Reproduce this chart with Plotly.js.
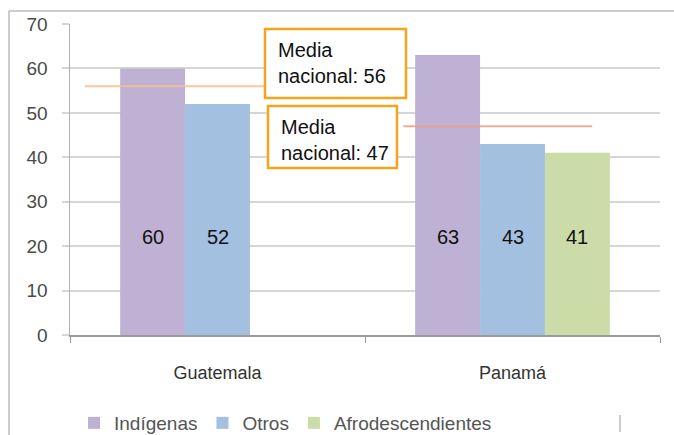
<!DOCTYPE html>
<html>
<head>
<meta charset="utf-8">
<script src="https://cdn.plot.ly/plotly-3.0.1.min.js"></script>
<style>
body{margin:0;background:#fff;}
#plot{width:674px;height:435px;}
</style>
</head>
<body>
<div id="plot"></div>
<script>
/*chart data*/
var paises=['Guatemala','Panamá'];
var series=['Indígenas','Otros','Afrodescendientes'];
var indigenas=[60,63];
var otros=[52,43];
var afro=[null,41];
var mediaNacional=[56,47];

var colores=['#bfb1d3','#a4c0e0','#cbdca8'];
var valores=[indigenas,otros,afro];

/*plot area in pixels, used to place the boxes and frame*/
var L=70, T=24, W=590, H=311;
function px(x){ return (x-L)/W; }
function py(y){ return (T+H-y)/H; }

var bargap=0.34;
var barW=(1-bargap)/series.length;

var data=[];
for(i=0;i<series.length;i++){
    data.push({
        type:'bar',
        name:series[i],
        x:paises,
        y:valores[i],
        marker:{color:colores[i]},
        hoverinfo:'none'
    });
}

/*labels inside the bars*/
var anns=[];
var labelY=22;
for(i=0;i<series.length;i++){
    for(j=0;j<paises.length;j++){
        if(valores[i][j]==null) continue;
        anns.push({
            x:j+(i-1)*barW, y:labelY, xref:'x', yref:'y',
            text:String(valores[i][j]), showarrow:false,
            font:{family:'Liberation Sans, Arial',size:20,color:'#111'}
        });
    }
}

/*"Media nacional" boxes*/
var cajas=[[265,29,406,98],[268,106,397,168]];
var shapes=[];
for(i=0;i<2;i++){
    var c=cajas[i];
    shapes.push({
        type:'rect', xref:'paper', yref:'paper', layer:'above',
        x0:px(c[0]), x1:px(c[2]), y0:py(c[1]), y1:py(c[3]),
        line:{color:'#f5a41e',width:2.5}, fillcolor:'#fff'
    });
    anns.push({
        xref:'paper', yref:'paper', x:px(c[0]+11), y:py(c[1]+21),
        xanchor:'left', yanchor:'middle', showarrow:false, text:'Media',
        font:{family:'Liberation Sans, Arial',size:20,color:'#111'}
    });
    anns.push({
        xref:'paper', yref:'paper', x:px(c[0]+11), y:py(c[1]+47),
        xanchor:'left', yanchor:'middle', showarrow:false,
        text:'nacional: '+mediaNacional[i],
        font:{family:'Liberation Sans, Arial',size:20,color:'#111'}
    });
}

/*national average lines*/
var lineasX=[[-0.45,0.16],[0.63,1.27]];
var lineasC=['rgba(247,190,145,0.85)','rgba(238,160,130,0.85)'];
for(i=0;i<2;i++){
    shapes.unshift({
        type:'line', xref:'x', yref:'y', layer:'above',
        x0:lineasX[i][0], x1:lineasX[i][1], y0:mediaNacional[i], y1:mediaNacional[i],
        line:{color:lineasC[i],width:2}
    });
}

/*outer frame*/
shapes.push({type:'line',xref:'paper',yref:'paper',x0:px(9),x1:px(676),y0:py(11),y1:py(11),line:{color:'#bbb',width:1.5}});
shapes.push({type:'line',xref:'paper',yref:'paper',x0:px(9),x1:px(9),y0:py(11),y1:py(437),line:{color:'#bbb',width:1.5}});
shapes.push({type:'line',xref:'paper',yref:'paper',x0:px(620),x1:px(620),y0:py(415),y1:py(432),line:{color:'#999',width:1}});

var layout={
    width:674, height:435,
    margin:{l:L,r:674-L-W,t:T,b:435-T-H,pad:0},
    paper_bgcolor:'#fff', plot_bgcolor:'#fff',
    barmode:'group', bargap:bargap, bargroupgap:0,
    showlegend:true,
    legend:{
        orientation:'h', xref:'container', yref:'container',
        x:74/674, xanchor:'left', y:(435-404)/435, yanchor:'top',
        font:{family:'Liberation Sans, Arial',size:19,color:'#555'},
        itemclick:false
    },
    xaxis:{
        type:'category', automargin:false,
        showgrid:false, showline:true, linecolor:'#9a9a9a', linewidth:1.5,
        ticks:'outside', tickson:'boundaries', ticklen:6, tickcolor:'#9a9a9a',
        ticklabelstandoff:21,
        tickfont:{family:'Liberation Sans, Arial',size:18,color:'#333'}
    },
    yaxis:{
        range:[0,70], dtick:10, automargin:false,
        showgrid:true, gridcolor:'#d6d6d6', gridwidth:2,
        showline:true, linecolor:'#b0b0b0', linewidth:1.5,
        ticks:'outside', ticklen:7, tickcolor:'#d6d6d6', tickwidth:2,
        ticklabelstandoff:10, zeroline:false,
        tickfont:{family:'Liberation Sans, Arial',size:19,color:'#4a4a4a'}
    },
    annotations:anns,
    shapes:shapes
};

Plotly.newPlot('plot',data,layout,{displayModeBar:false,staticPlot:true});
</script>
</body>
</html>
